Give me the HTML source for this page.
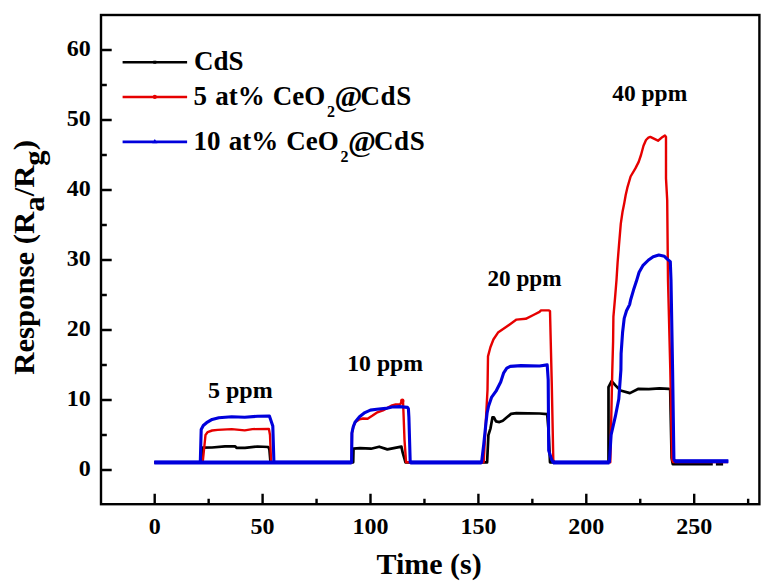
<!DOCTYPE html>
<html><head><meta charset="utf-8"><style>
html,body{margin:0;padding:0;background:#fff;}
svg{position:absolute;left:0;top:0;display:block}
text{font-family:"Liberation Serif",serif;font-weight:bold;fill:#000}
</style></head><body>
<svg width="773" height="586" viewBox="0 0 773 586">
<rect x="101.0" y="15.0" width="658.4" height="489.2" fill="none" stroke="#000" stroke-width="2.4"/>
<path d="M154.70,504.2V493.7M208.65,504.2V498.7M262.60,504.2V493.7M316.55,504.2V498.7M370.50,504.2V493.7M424.45,504.2V498.7M478.40,504.2V493.7M532.35,504.2V498.7M586.30,504.2V493.7M640.25,504.2V498.7M694.20,504.2V493.7M748.15,504.2V498.7M101.0,470.00H111.7M101.0,435.00H106.8M101.0,400.00H111.7M101.0,365.00H106.8M101.0,330.00H111.7M101.0,295.00H106.8M101.0,260.00H111.7M101.0,225.00H106.8M101.0,190.00H111.7M101.0,155.00H106.8M101.0,120.00H111.7M101.0,85.00H106.8M101.0,50.00H111.7" stroke="#000" stroke-width="2.4" fill="none"/>
<g font-size="24"><text x="90.8" y="476.0" text-anchor="end">0</text><text x="90.8" y="406.0" text-anchor="end">10</text><text x="90.8" y="336.0" text-anchor="end">20</text><text x="90.8" y="266.0" text-anchor="end">30</text><text x="90.8" y="196.0" text-anchor="end">40</text><text x="90.8" y="126.0" text-anchor="end">50</text><text x="90.8" y="56.0" text-anchor="end">60</text><text x="154.7" y="534" text-anchor="middle">0</text><text x="262.6" y="534" text-anchor="middle">50</text><text x="370.5" y="534" text-anchor="middle">100</text><text x="478.4" y="534" text-anchor="middle">150</text><text x="586.3" y="534" text-anchor="middle">200</text><text x="694.2" y="534" text-anchor="middle">250</text></g>
<g fill="none" stroke-linejoin="round" stroke-linecap="butt">
<polyline points="154.3,462.3 202.5,462.3 202.7,447.6 212.0,447.5 225.0,446.3 235.0,446.3 236.5,447.8 245.0,447.8 257.6,446.5 268.3,447.0 269.4,449.4 270.5,462.3 353.2,462.3 353.5,448.6 360.0,448.2 371.0,448.7 379.2,446.7 387.4,449.4 401.4,446.6 402.7,452.7 405.5,462.3 487.1,462.4 488.4,435.1 490.5,428.3 492.5,417.3 493.9,417.3 496.0,421.4 499.4,422.1 502.8,420.7 506.9,417.3 511.0,413.9 516.4,413.2 539.5,413.5 547.2,414.1 548.5,430.0 550.0,462.3 608.5,462.3 608.5,387.1 611.6,381.1 615.4,385.4 620.5,390.5 629.9,393.1 638.5,388.8 648.8,389.2 659.5,388.3 668.8,388.8 670.2,390.0 670.8,420.0 671.6,458.0 672.8,464.2 712.8,464.2" stroke="#000" stroke-width="2.7"/>
<polyline points="715.9,464.2 723.1,464.2" stroke="#000" stroke-width="2.7"/>
<polyline points="154.3,462.3 202.7,462.3 205.0,440.0 205.5,434.9 207.7,432.1 212.1,430.5 217.7,429.9 231.7,429.1 244.7,430.4 252.4,429.1 268.9,428.9 270.0,435.0 271.1,462.8 351.6,462.3 352.0,433.0 353.5,426.0 355.5,422.0 359.5,419.2 363.1,418.5 367.6,418.8 372.2,415.8 376.7,412.7 383.0,410.4 392.1,405.4 395.7,404.5 400.3,404.3 402.1,400.4 403.0,401.0 403.5,413.0 404.5,440.0 406.1,462.3 483.7,462.3 486.4,410.5 487.5,390.0 488.0,356.4 490.4,347.2 493.4,339.5 498.0,332.6 505.7,327.3 516.5,319.6 525.7,318.8 533.4,315.0 539.5,311.9 541.0,310.4 548.7,310.4 550.0,311.0 551.8,385.0 553.3,459.9 554.5,462.3 610.3,462.3 612.3,370.0 613.1,341.4 613.4,316.9 615.0,298.4 616.5,280.0 617.6,262.5 619.0,245.0 620.8,223.6 622.5,212.0 624.1,204.1 625.7,195.0 627.3,187.9 630.6,176.5 635.4,168.4 638.7,161.9 641.0,155.0 643.5,145.7 646.0,140.0 648.4,137.6 650.3,136.9 658.0,140.7 662.6,136.9 664.9,135.4 666.0,136.9 666.0,178.4 667.2,200.0 668.0,280.0 670.3,370.0 672.1,460.0 673.0,462.0 728.0,462.0" stroke="#e60000" stroke-width="2.4"/>
<circle cx="402.3" cy="400.8" r="2.2" fill="#e60000"/>
<polyline points="154.3,462.3 200.3,462.3 200.9,440.0 201.2,429.4 203.3,425.5 206.6,422.7 212.1,419.4 218.8,417.7 231.7,416.8 244.7,417.3 257.6,416.2 269.4,416.0 272.8,426.1 273.9,461.7 274.5,462.3 351.6,462.3 351.9,433.0 353.2,427.0 355.0,422.2 359.5,416.7 364.9,412.6 370.4,410.1 376.7,409.3 385.8,408.4 392.1,407.0 399.3,406.6 407.5,407.4 408.4,408.6 408.9,417.3 410.2,462.3 481.6,462.4 483.7,444.6 485.7,425.5 487.1,413.0 488.6,406.0 491.5,397.4 496.0,391.2 500.7,382.0 503.7,372.8 506.8,368.2 510.3,366.4 521.1,365.6 539.5,366.0 547.2,364.9 548.2,380.0 548.7,450.6 551.8,459.9 553.0,462.3 609.4,462.0 611.1,435.0 615.4,416.2 618.8,399.0 620.9,370.0 621.1,353.7 622.6,332.2 624.2,318.4 626.5,310.7 629.6,304.6 630.6,300.0 633.5,290.1 636.3,281.6 639.1,272.2 642.8,265.7 648.5,260.0 653.2,256.7 658.8,255.1 664.4,256.3 667.3,259.1 670.3,261.6 671.0,280.0 672.6,370.0 673.9,459.0 675.0,461.3 728.3,461.3" stroke="#0000dc" stroke-width="3.1"/>
<path d="M154.3,462.4H274.5M274.5,462.4H351.6M410.2,462.4H481.6M553.0,462.4H609.4M675,461.3H728.3" stroke="#0000dc" stroke-width="4"/>
</g>
<!-- legend -->
<path d="M122.6,62.2H187.1" stroke="#000" stroke-width="2.4"/>
<path d="M122.6,97H187.1" stroke="#e60000" stroke-width="2.4"/>
<path d="M122.6,141.9H187.1" stroke="#0000dc" stroke-width="2.6"/>
<circle cx="154.8" cy="96.9" r="2.1" fill="#e60000"/>
<path d="M154.8,138.9l2.6,4.4h-5.2z" fill="#0000dc"/>
<rect x="153.3" y="60.7" width="3" height="3" fill="#000"/>
<g font-size="27">
<text x="194" y="70.4">CdS</text>
<text x="193.5" y="105.4" word-spacing="1.4">5 at% CeO</text>
<text x="326.9" y="116.8" font-size="16">2</text>
<text x="334.5" y="106" font-size="30" font-weight="normal">@</text>
<text x="360.5" y="105.4" letter-spacing="0.6">CdS</text>
<text x="193.5" y="150.4" word-spacing="1.4">10 at% CeO</text>
<text x="340.4" y="161.8" font-size="16">2</text>
<text x="348" y="151" font-size="30" font-weight="normal">@</text>
<text x="374" y="150.4" letter-spacing="0.6">CdS</text>
</g>
<g font-size="24">
<text x="208" y="398.2">5 ppm</text>
<text transform="translate(347.2,370.8) scale(0.99,1)">10 ppm</text>
<text transform="translate(487.4,285.8) scale(0.968,1)">20 ppm</text>
<text transform="translate(612.2,100.9) scale(0.979,1)">40 ppm</text>
</g>
<text x="376.5" y="574" font-size="30">Time (s)</text>
<text transform="translate(34.3,374.8) rotate(-90) scale(1.06,1)" font-size="29">Response (R<tspan dy="10">a</tspan><tspan dy="-10">/R</tspan><tspan dy="10">g</tspan><tspan dy="-10">)</tspan></text>
</svg>
</body></html>
